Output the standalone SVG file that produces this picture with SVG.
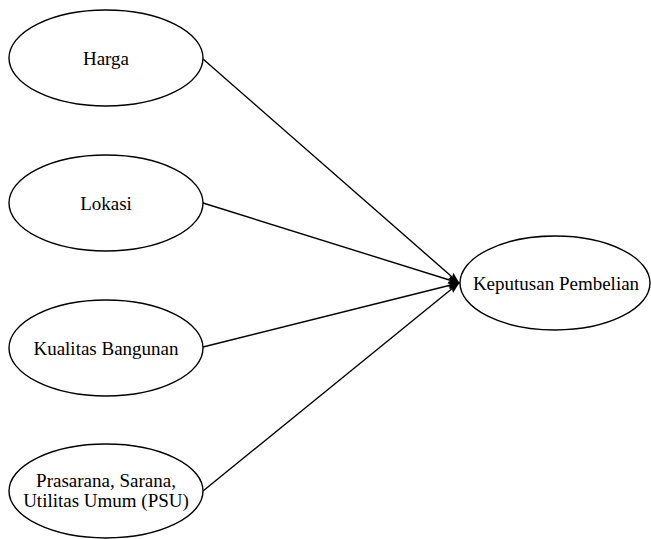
<svg xmlns="http://www.w3.org/2000/svg" width="651" height="539" viewBox="0 0 651 539">
<defs>
<marker id="arr" markerWidth="12" markerHeight="8" refX="11" refY="4" orient="auto" markerUnits="userSpaceOnUse">
<path d="M0,0 L12,4 L0,8 L2,4 z" fill="#000"/>
</marker>
<style>
.node ellipse{fill:#fff;stroke:#000;stroke-width:1.4}
.node text{font-family:"Liberation Serif","Times New Roman",serif;font-size:19px;fill:#000;text-anchor:middle}
.conn line{stroke:#000;stroke-width:1.4;marker-end:url(#arr)}
</style>
</defs>
<rect width="651" height="539" fill="#fff"/>
<g id="connectors" class="conn">
<line x1="203" y1="59" x2="459" y2="283"/>
<line x1="203" y1="203" x2="459" y2="283"/>
<line x1="203" y1="347" x2="459" y2="283"/>
<line x1="203" y1="491" x2="459" y2="283"/>
</g>
<g id="harga" class="node">
<ellipse cx="106" cy="58" rx="97" ry="48"/>
<text x="106" y="65">Harga</text>
</g>
<g id="lokasi" class="node">
<ellipse cx="106" cy="203" rx="97" ry="48"/>
<text x="106" y="210">Lokasi</text>
</g>
<g id="kualitas" class="node">
<ellipse cx="106" cy="348" rx="97" ry="48"/>
<text x="106" y="355">Kualitas Bangunan</text>
</g>
<g id="psu" class="node">
<ellipse cx="106" cy="491" rx="97" ry="47"/>
<text x="106" y="487">Prasarana, Sarana,</text>
<text x="106" y="507">Utilitas Umum (PSU)</text>
</g>
<g id="keputusan" class="node">
<ellipse cx="555" cy="283" rx="95" ry="47"/>
<text x="556" y="290">Keputusan Pembelian</text>
</g>
</svg>
